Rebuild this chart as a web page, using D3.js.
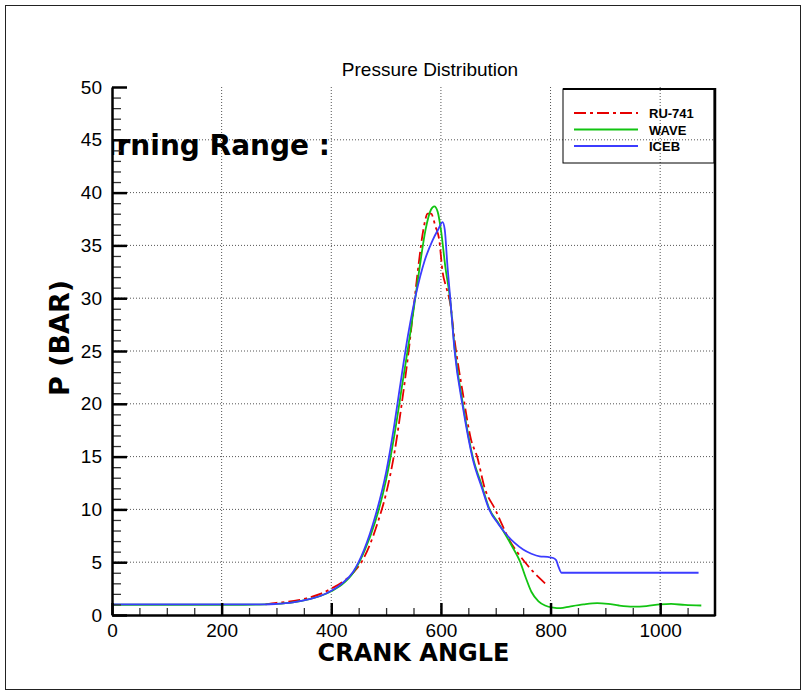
<!DOCTYPE html>
<html>
<head>
<meta charset="utf-8">
<script src="https://cdn.jsdelivr.net/npm/d3@7"></script>
<style>
  body { margin: 0; background: #fff; }
  svg { display: block; }
  .tick text { font-family: "Liberation Sans", Arial, sans-serif; font-size: 19px; fill: #000; }
</style>
</head>
<body>
<svg></svg>
<script>
// ---- data ----
const xTicks = [0, 200, 400, 600, 800, 1000];
const yTicks = [0, 5, 10, 15, 20, 25, 30, 35, 40, 45, 50];
const seriesNames = ['RU-741', 'WAVE', 'ICEB'];

const ruAngle = [280, 300, 320, 340, 360, 380, 400, 420, 440, 455, 470, 485, 500, 515, 528, 540, 550, 560, 568, 576, 582, 590, 597, 603, 610, 617, 625, 640, 655, 666, 680, 699, 712, 726, 740, 755, 770, 780, 790];
const ruP     = [1.0, 1.15, 1.25, 1.4, 1.65, 2.0, 2.5, 3.1, 4.0, 5.0, 6.6, 8.8, 11.5, 15.3, 19.8, 24.5, 29, 33.5, 36.5, 38.0, 38.0, 36.8, 35.5, 32.5, 31, 29.5, 26, 21, 16.6, 15, 12, 10, 8.5, 7, 5.9, 4.9, 4.0, 3.5, 3.0];

const waveAngle = [0, 240, 280, 300, 330, 360, 380, 400, 420, 440, 460, 480, 500, 515, 530, 545, 560, 572, 582, 588, 594, 600, 608, 617, 625, 640, 658, 675, 688, 705, 720, 732, 744, 755, 765, 778, 790, 805, 818, 835, 860, 885, 905, 925, 950, 975, 1000, 1020, 1045, 1075];
const waveP     = [0.97, 0.97, 1.0, 1.05, 1.2, 1.5, 1.8, 2.25, 2.9, 4.0, 6.0, 8.8, 12.8, 17, 22, 27, 32.5, 36.5, 38.4, 38.7, 38.2, 36.5, 33, 29.8, 25.3, 20, 15, 12.2, 10.1, 8.7, 7.4, 6.3, 5.1, 3.5, 2.2, 1.3, 0.9, 0.7, 0.65, 0.8, 1.0, 1.12, 1.05, 0.9, 0.8, 0.85, 1.0, 1.05, 0.95, 0.9];

const icebAngle = [0, 200, 280, 300, 330, 360, 380, 400, 420, 440, 460, 480, 500, 515, 525, 540, 555, 570, 585, 595, 603, 607, 612, 617, 625, 640, 658, 675, 688, 705, 720, 735, 750, 765, 780, 795, 805, 810, 815, 820, 850, 1070];
const icebP     = [1.0, 1.0, 1.0, 1.05, 1.2, 1.5, 1.8, 2.3, 3.0, 4.1, 6.2, 9.3, 13.5, 18, 21.5, 26.5, 30.5, 33.5, 35.5, 36.5, 37.2, 36.5, 33, 30, 25, 19.7, 14.8, 12, 10, 8.6, 7.6, 6.8, 6.2, 5.8, 5.55, 5.5, 5.4, 5.2, 4.5, 4.0, 4.0, 4.0];

const svg = d3.select('svg');
const width = 802;
const height = 691;
const margin = {top: 87, right: 87, bottom: 76, left: 112};
const innerWidth = width - margin.left - margin.right;
const innerHeight = height - margin.top - margin.bottom;

svg.attr('width', width).attr('height', height);

// outer frame
svg.append('rect')
  .attr('x', 5.5).attr('y', 5.5)
  .attr('width', 795).attr('height', 684)
  .attr('fill', 'none').attr('stroke', '#222').attr('stroke-width', 1);

const x = d3.scaleLinear().domain([0, 1100]).range([0, innerWidth]);
const y = d3.scaleLinear().domain([0, 50]).range([innerHeight, 0]);

const g = svg.append('g')
  .attr('transform', `translate(${margin.left}, ${margin.top})`);

g.append('clipPath').attr('id', 'plotclip')
  .append('rect').attr('width', innerWidth).attr('height', innerHeight);

// grid
g.selectAll('line.vgrid').data(xTicks.slice(1))
  .enter().append('line')
    .attr('x1', d => x(d)).attr('x2', d => x(d))
    .attr('y1', 0).attr('y2', innerHeight)
    .attr('stroke', '#555').attr('stroke-dasharray', '1,2');
g.selectAll('line.hgrid').data(yTicks.slice(1, -1))
  .enter().append('line')
    .attr('x1', 0).attr('x2', innerWidth)
    .attr('y1', d => y(d)).attr('y2', d => y(d))
    .attr('stroke', '#555').attr('stroke-dasharray', '1,2');

// clipped annotation
g.append('text')
  .attr('clip-path', 'url(#plotclip)')
  .attr('x', 330 - margin.left).attr('y', 155 - margin.top)
  .attr('text-anchor', 'end')
  .attr('font-family', '"DejaVu Sans", sans-serif')
  .attr('font-weight', 'bold').attr('font-size', 28)
  .text('Burning Range :');

// curves
const line = d3.line()
  .x(d => x(d[0]))
  .y(d => y(d[1]))
  .curve(d3.curveMonotoneX);

const series = [
  {name: seriesNames[0], pts: d3.zip(ruAngle, ruP), color: '#e60000', dash: '12,4,3,4'},
  {name: seriesNames[1], pts: d3.zip(waveAngle, waveP), color: '#12c412', dash: null},
  {name: seriesNames[2], pts: d3.zip(icebAngle, icebP), color: '#3c3cff', dash: null}
];

g.selectAll('path.curve').data(series)
  .enter().append('path')
    .attr('class', 'curve')
    .attr('d', d => line(d.pts))
    .attr('fill', 'none')
    .attr('stroke', d => d.color)
    .attr('stroke-width', 1.8)
    .attr('stroke-dasharray', d => d.dash);

// axes (minor ticks first, no labels)
const minorX = d3.range(0, 1100, 50).filter(v => v % 200 !== 0);
const minorY = d3.range(0, 50, 1).filter(v => v % 5 !== 0);

g.append('g')
  .attr('transform', `translate(0, ${innerHeight})`)
  .call(d3.axisBottom(x).tickValues(minorX).tickSize(-7))
  .call(a => a.select('.domain').remove())
  .call(a => a.selectAll('text').remove())
  .selectAll('line').attr('stroke', '#333').attr('stroke-width', 1.3);

g.append('g')
  .call(d3.axisLeft(y).tickValues(minorY).tickSize(-9))
  .call(a => a.select('.domain').remove())
  .call(a => a.selectAll('text').remove())
  .selectAll('line').attr('stroke', '#333').attr('stroke-width', 1.3);

const xAxis = g.append('g')
  .attr('transform', `translate(0, ${innerHeight})`)
  .call(d3.axisBottom(x).tickValues(xTicks).tickFormat(d3.format('d'))
    .tickSize(-12).tickSizeOuter(0).tickPadding(9));
xAxis.select('.domain').attr('stroke-width', 2.5);
xAxis.selectAll('.tick line').attr('stroke-width', 2.5);

const yAxis = g.append('g')
  .call(d3.axisLeft(y).tickValues(yTicks).tickFormat(d3.format('d'))
    .tickSize(-15).tickSizeOuter(0).tickPadding(10));
yAxis.select('.domain').attr('stroke-width', 2.5);
yAxis.selectAll('.tick line').attr('stroke-width', 2.5);

// right frame
g.append('line')
  .attr('x1', innerWidth).attr('x2', innerWidth)
  .attr('y1', 1).attr('y2', innerHeight + 1)
  .attr('stroke', '#000').attr('stroke-width', 2.5);

// title and axis labels
svg.append('text')
  .attr('x', 430).attr('y', 76)
  .attr('text-anchor', 'middle')
  .attr('font-family', '"Liberation Sans", Arial, sans-serif')
  .attr('font-size', 19)
  .text('Pressure Distribution');

svg.append('text')
  .attr('x', margin.left + innerWidth / 2).attr('y', 661)
  .attr('text-anchor', 'middle')
  .attr('font-family', '"DejaVu Sans", sans-serif')
  .attr('font-weight', 'bold').attr('font-size', 24)
  .text('CRANK ANGLE');

svg.append('text')
  .attr('transform', 'translate(69, 338) rotate(-90)')
  .attr('text-anchor', 'middle')
  .attr('font-family', '"DejaVu Sans", sans-serif')
  .attr('font-weight', 'bold').attr('font-size', 27)
  .text('P (BAR)');

// legend
const lg = svg.append('g').attr('transform', 'translate(563, 89)');
lg.append('rect')
  .attr('width', 151).attr('height', 74)
  .attr('fill', 'none').attr('stroke', '#000').attr('stroke-width', 1);
lg.append('line')
  .attr('x1', 0).attr('x2', 152).attr('y1', 0).attr('y2', 0)
  .attr('stroke', '#000').attr('stroke-width', 2);

const rows = lg.selectAll('g.row').data(series)
  .enter().append('g')
    .attr('transform', (d, i) => `translate(0, ${24 + i * 16.5})`);
rows.append('line')
  .attr('x1', 11).attr('x2', 75)
  .attr('stroke', d => d.color).attr('stroke-width', 2)
  .attr('stroke-dasharray', d => d.dash);
rows.append('text')
  .attr('x', 86).attr('y', 5)
  .attr('font-family', '"Liberation Sans", Arial, sans-serif')
  .attr('font-weight', 'bold')
  .attr('font-size', 13)
  .text(d => d.name);
</script>
</body>
</html>
